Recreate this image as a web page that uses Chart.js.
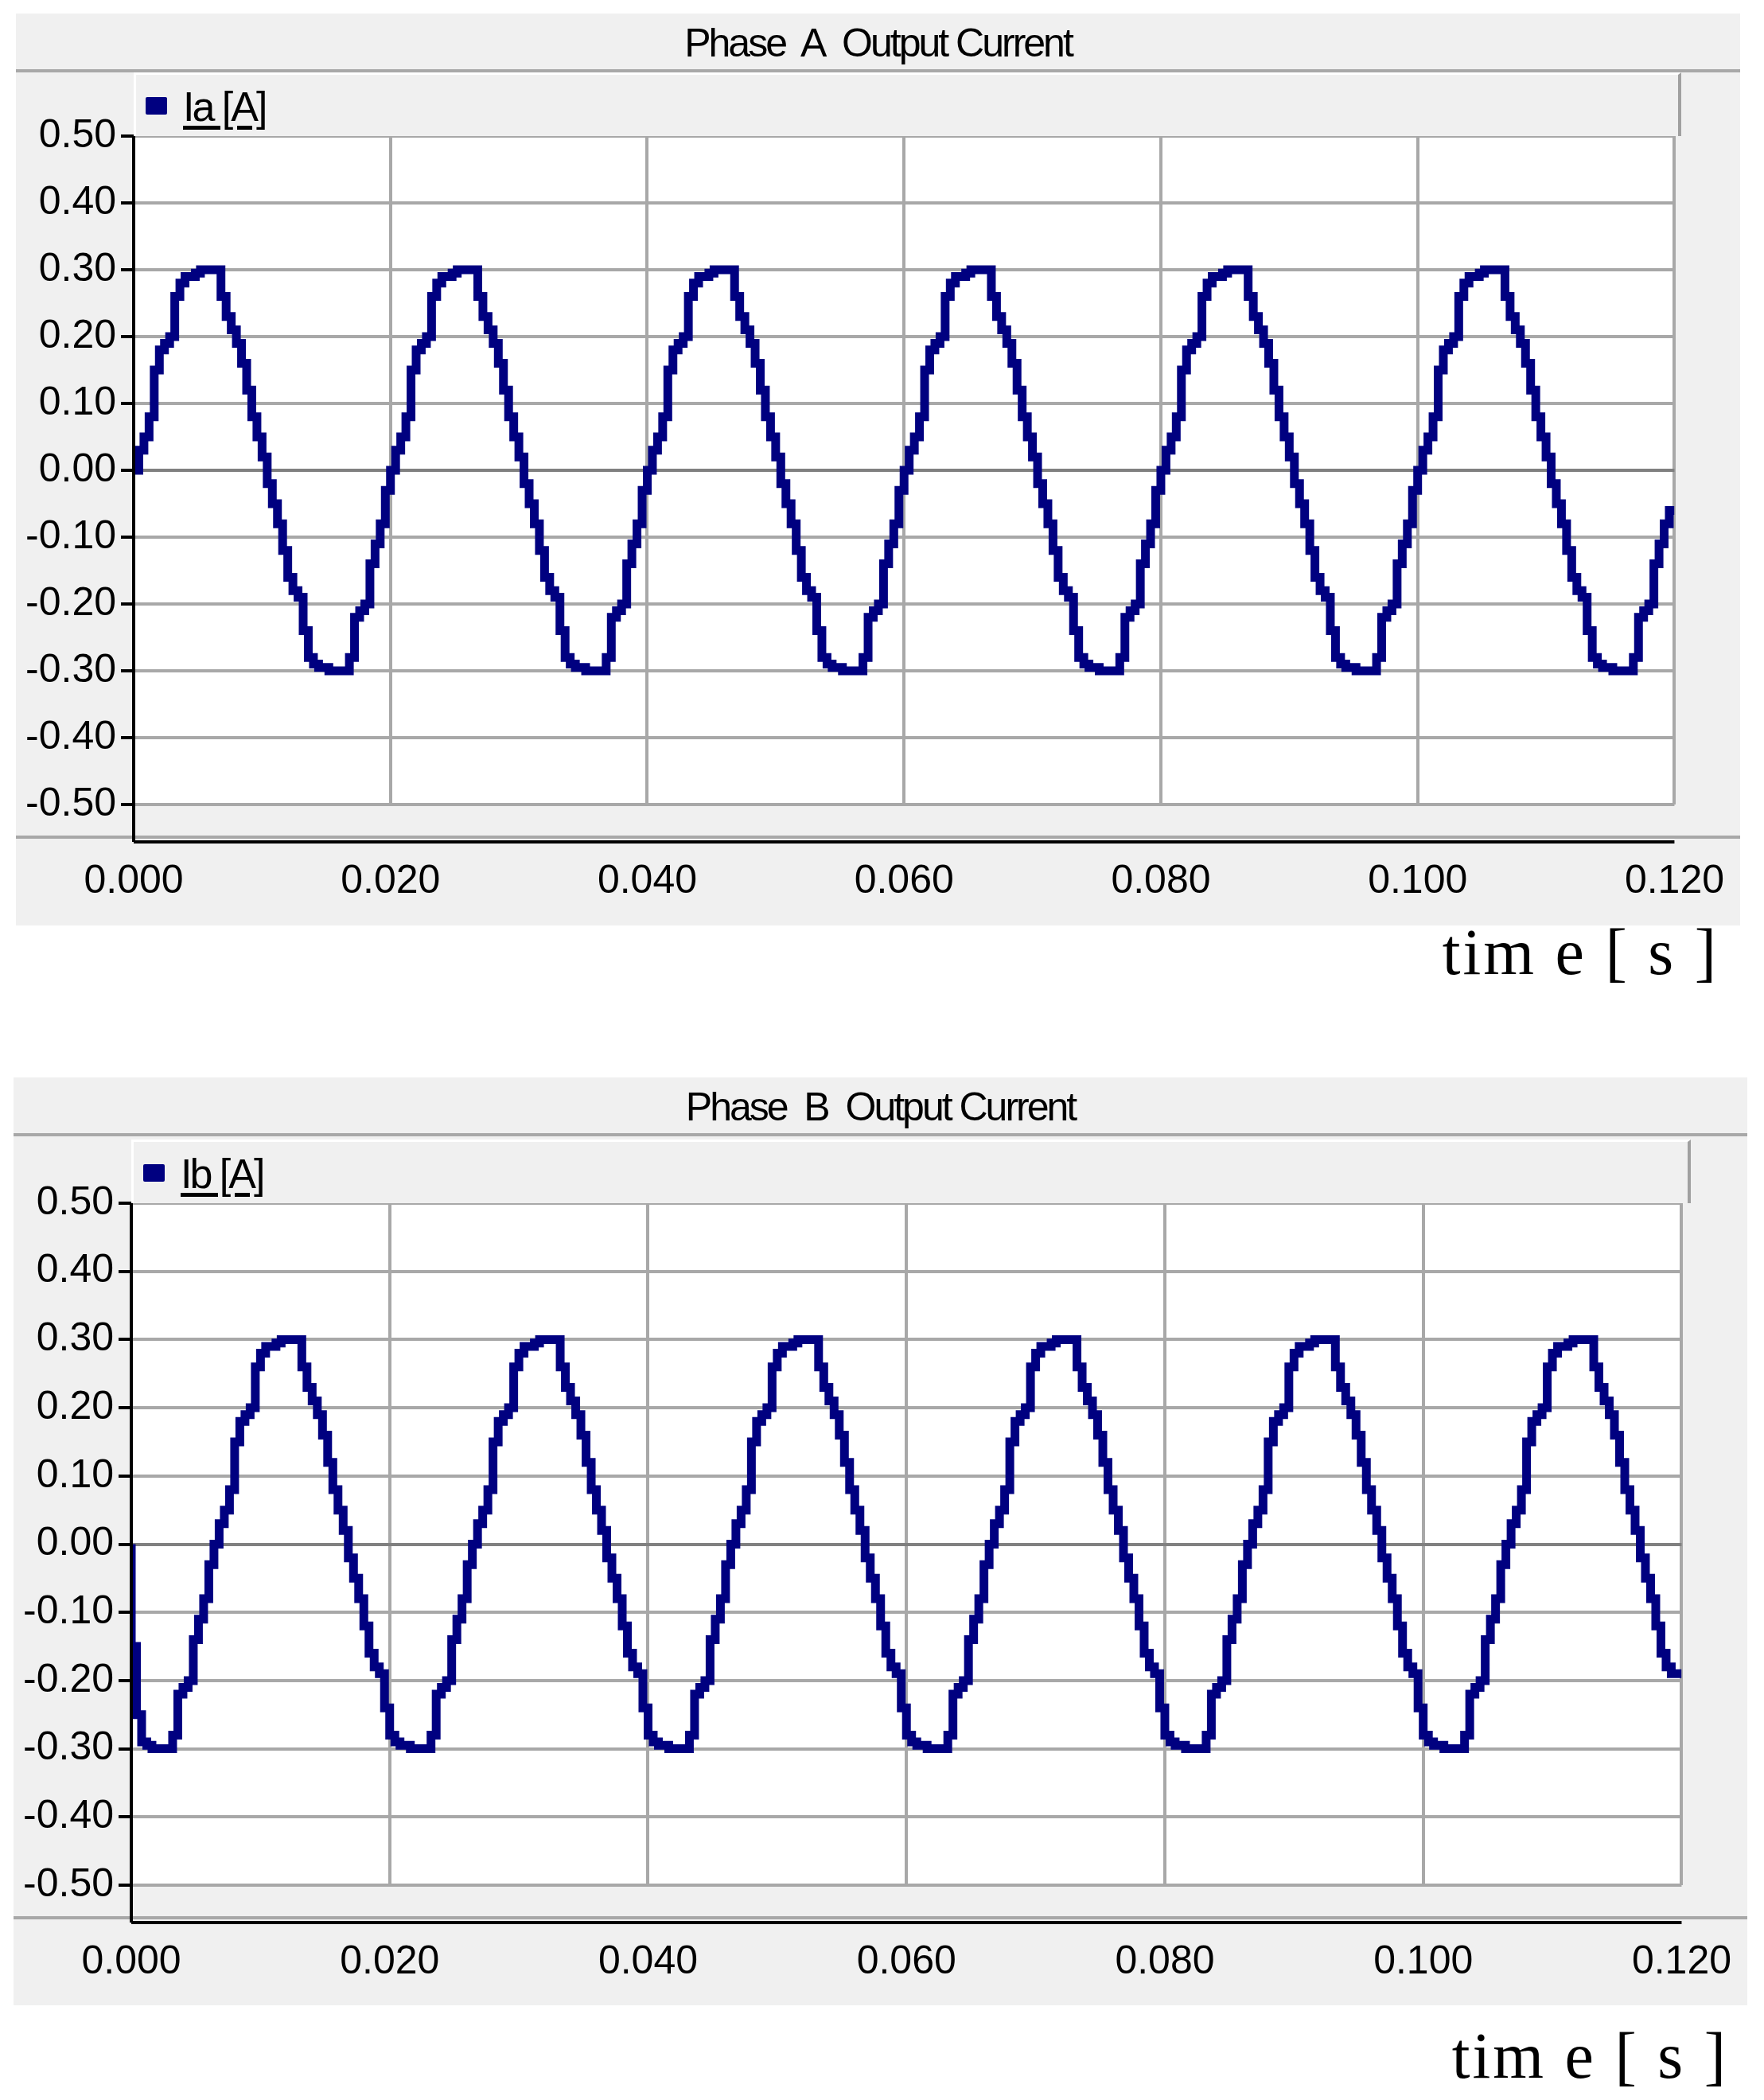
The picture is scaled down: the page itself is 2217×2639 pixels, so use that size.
<!DOCTYPE html>
<html><head><meta charset="utf-8">
<script src="https://cdn.jsdelivr.net/npm/chart.js@4"></script>
<style>
body{margin:0;width:2217px;height:2639px;background:#fff;position:relative;font-family:"Liberation Sans Narrow","Liberation Sans",Arial,sans-serif;}
.box{position:absolute;background:#f0f0f0;}
.title{position:absolute;left:0;right:0;top:0;height:70px;border-bottom:4px solid #a8a8a8;text-align:center;font-size:50px;line-height:74px;color:#000;letter-spacing:-3px}
.leg{position:absolute;height:80px;background:#f0f0f0;border-top:3px solid #fff;border-left:3px solid #fff;border-right:4px solid #a0a0a0;box-sizing:border-box;font-size:52px;line-height:80px;color:#000}
.leg span.sq{display:inline-block;width:27px;height:22px;background:#000080;margin:0 20px 0 12px;vertical-align:8px;border-radius:2px}
.leg span.t{text-decoration:underline;text-underline-offset:6px;letter-spacing:-3px}
canvas{position:absolute;left:0;top:0}
.time{position:absolute;font-family:"Liberation Serif","DejaVu Serif",serif;font-size:82px;letter-spacing:3px;color:#000;white-space:pre}
</style></head><body>
<div class="box" id="b1" style="left:20px;top:17px;width:2167px;height:1146px">
 <canvas id="c1"></canvas>
 <div class="title">Phase&nbsp; A&nbsp; Output Current</div>
 <div class="leg" style="left:148px;top:74px;width:1945px"><span class="sq"></span><span class="t">Ia [A]</span></div>
</div>
<div class="time" style="right:57px;top:1150px">tim e [ s ]</div>
<div class="box" id="b2" style="left:17px;top:1354px;width:2179px;height:1166px">
 <canvas id="c2"></canvas>
 <div class="title">Phase&nbsp; B&nbsp; Output Current</div>
 <div class="leg" style="left:148px;top:78px;width:1960px"><span class="sq"></span><span class="t">Ib [A]</span></div>
</div>
<div class="time" style="right:45px;top:2537px">tim e [ s ]</div>
<script>
const timeStep = 0.0004; // s per sample
const xTicks = [0,0.02,0.04,0.06,0.08,0.10,0.12];
const yTicks = [0.5,0.4,0.3,0.2,0.1,0,-0.1,-0.2,-0.3,-0.4,-0.5];
const iaValues = [
 0,0,0.03,0.05,0.08,0.15,0.18,0.19,0.20,0.26,0.28,0.29,0.29,0.295,0.3,0.3,0.3,0.3,0.26,0.23,0.21,0.19,0.16,0.12,0.08,0.05,0.02,-0.02,-0.05,-0.08,-0.12,-0.16,-0.18,-0.19,-0.24,-0.28,-0.29,-0.295,-0.295,-0.3,-0.3,-0.3,-0.3,-0.28,-0.22,-0.21,-0.2,-0.14,-0.11,-0.08,
 -0.03,0.0,0.03,0.05,0.08,0.15,0.18,0.19,0.20,0.26,0.28,0.29,0.29,0.295,0.3,0.3,0.3,0.3,0.26,0.23,0.21,0.19,0.16,0.12,0.08,0.05,0.02,-0.02,-0.05,-0.08,-0.12,-0.16,-0.18,-0.19,-0.24,-0.28,-0.29,-0.295,-0.295,-0.3,-0.3,-0.3,-0.3,-0.28,-0.22,-0.21,-0.2,-0.14,-0.11,-0.08,
 -0.03,0.0,0.03,0.05,0.08,0.15,0.18,0.19,0.20,0.26,0.28,0.29,0.29,0.295,0.3,0.3,0.3,0.3,0.26,0.23,0.21,0.19,0.16,0.12,0.08,0.05,0.02,-0.02,-0.05,-0.08,-0.12,-0.16,-0.18,-0.19,-0.24,-0.28,-0.29,-0.295,-0.295,-0.3,-0.3,-0.3,-0.3,-0.28,-0.22,-0.21,-0.2,-0.14,-0.11,-0.08,
 -0.03,0.0,0.03,0.05,0.08,0.15,0.18,0.19,0.20,0.26,0.28,0.29,0.29,0.295,0.3,0.3,0.3,0.3,0.26,0.23,0.21,0.19,0.16,0.12,0.08,0.05,0.02,-0.02,-0.05,-0.08,-0.12,-0.16,-0.18,-0.19,-0.24,-0.28,-0.29,-0.295,-0.295,-0.3,-0.3,-0.3,-0.3,-0.28,-0.22,-0.21,-0.2,-0.14,-0.11,-0.08,
 -0.03,0.0,0.03,0.05,0.08,0.15,0.18,0.19,0.20,0.26,0.28,0.29,0.29,0.295,0.3,0.3,0.3,0.3,0.26,0.23,0.21,0.19,0.16,0.12,0.08,0.05,0.02,-0.02,-0.05,-0.08,-0.12,-0.16,-0.18,-0.19,-0.24,-0.28,-0.29,-0.295,-0.295,-0.3,-0.3,-0.3,-0.3,-0.28,-0.22,-0.21,-0.2,-0.14,-0.11,-0.08,
 -0.03,0.0,0.03,0.05,0.08,0.15,0.18,0.19,0.20,0.26,0.28,0.29,0.29,0.295,0.3,0.3,0.3,0.3,0.26,0.23,0.21,0.19,0.16,0.12,0.08,0.05,0.02,-0.02,-0.05,-0.08,-0.12,-0.16,-0.18,-0.19,-0.24,-0.28,-0.29,-0.295,-0.295,-0.3,-0.3,-0.3,-0.3,-0.28,-0.22,-0.21,-0.2,-0.14,-0.11,-0.08,
 -0.06
];
const ibValues = [
 0,-0.15,-0.25,-0.29,-0.295,-0.3,-0.3,-0.3,-0.3,-0.28,-0.22,-0.21,-0.2,-0.14,-0.11,-0.08,
 -0.03,0.0,0.03,0.05,0.08,0.15,0.18,0.19,0.20,0.26,0.28,0.29,0.29,0.295,0.3,0.3,0.3,0.3,0.26,0.23,0.21,0.19,0.16,0.12,0.08,0.05,0.02,-0.02,-0.05,-0.08,-0.12,-0.16,-0.18,-0.19,-0.24,-0.28,-0.29,-0.295,-0.295,-0.3,-0.3,-0.3,-0.3,-0.28,-0.22,-0.21,-0.2,-0.14,-0.11,-0.08,
 -0.03,0.0,0.03,0.05,0.08,0.15,0.18,0.19,0.20,0.26,0.28,0.29,0.29,0.295,0.3,0.3,0.3,0.3,0.26,0.23,0.21,0.19,0.16,0.12,0.08,0.05,0.02,-0.02,-0.05,-0.08,-0.12,-0.16,-0.18,-0.19,-0.24,-0.28,-0.29,-0.295,-0.295,-0.3,-0.3,-0.3,-0.3,-0.28,-0.22,-0.21,-0.2,-0.14,-0.11,-0.08,
 -0.03,0.0,0.03,0.05,0.08,0.15,0.18,0.19,0.20,0.26,0.28,0.29,0.29,0.295,0.3,0.3,0.3,0.3,0.26,0.23,0.21,0.19,0.16,0.12,0.08,0.05,0.02,-0.02,-0.05,-0.08,-0.12,-0.16,-0.18,-0.19,-0.24,-0.28,-0.29,-0.295,-0.295,-0.3,-0.3,-0.3,-0.3,-0.28,-0.22,-0.21,-0.2,-0.14,-0.11,-0.08,
 -0.03,0.0,0.03,0.05,0.08,0.15,0.18,0.19,0.20,0.26,0.28,0.29,0.29,0.295,0.3,0.3,0.3,0.3,0.26,0.23,0.21,0.19,0.16,0.12,0.08,0.05,0.02,-0.02,-0.05,-0.08,-0.12,-0.16,-0.18,-0.19,-0.24,-0.28,-0.29,-0.295,-0.295,-0.3,-0.3,-0.3,-0.3,-0.28,-0.22,-0.21,-0.2,-0.14,-0.11,-0.08,
 -0.03,0.0,0.03,0.05,0.08,0.15,0.18,0.19,0.20,0.26,0.28,0.29,0.29,0.295,0.3,0.3,0.3,0.3,0.26,0.23,0.21,0.19,0.16,0.12,0.08,0.05,0.02,-0.02,-0.05,-0.08,-0.12,-0.16,-0.18,-0.19,-0.24,-0.28,-0.29,-0.295,-0.295,-0.3,-0.3,-0.3,-0.3,-0.28,-0.22,-0.21,-0.2,-0.14,-0.11,-0.08,
 -0.03,0.0,0.03,0.05,0.08,0.15,0.18,0.19,0.20,0.26,0.28,0.29,0.29,0.295,0.3,0.3,0.3,0.3,0.26,0.23,0.21,0.19,0.16,0.12,0.08,0.05,0.02,-0.02,-0.05,-0.08,-0.12,-0.16,-0.18,-0.19,
 -0.19
];
const FONT = '"Liberation Sans Narrow","Liberation Sans",Arial,sans-serif';
const AXGAP = 47;
const axisPlugin = {
  id:'axisPlugin',
  beforeDraw(chart){
    const a = chart.chartArea, ctx = chart.ctx;
    ctx.save();
    ctx.fillStyle = '#fff';
    ctx.fillRect(a.left, a.top, a.right - a.left, a.bottom - a.top);
    ctx.letterSpacing = '-3px';
    ctx.restore();
  },
  afterDraw(chart){
    const a = chart.chartArea, ctx = chart.ctx;
    ctx.save();
    ctx.strokeStyle = '#a8a8a8'; ctx.lineWidth = 4;
    ctx.beginPath(); ctx.moveTo(0, a.bottom+AXGAP-6); ctx.lineTo(chart.width, a.bottom+AXGAP-6); ctx.stroke();
    ctx.strokeStyle = '#000'; ctx.lineWidth = 4;
    ctx.beginPath(); ctx.moveTo(a.left, a.bottom+AXGAP); ctx.lineTo(a.right, a.bottom+AXGAP); ctx.stroke();
    ctx.beginPath(); ctx.moveTo(a.left, a.top); ctx.lineTo(a.left, a.bottom+AXGAP); ctx.stroke();
    ctx.restore();
  }
};
function makeChart(id, boxW, boxH, padTop, padRight, xAxisH, label, values){
  const cv = document.getElementById(id);
  cv.style.width = boxW+'px'; cv.style.height = boxH+'px';
  const pts = values.map((v,i)=>({x:i*timeStep, y:v}));
  return new Chart(cv, {
    type:'line',
    data:{datasets:[{label, data:pts, borderColor:'#000080', borderWidth:11, pointRadius:0, stepped:'after', fill:false, borderJoinStyle:'miter'}]},
    options:{
      responsive:false, animation:false, devicePixelRatio:1,
      layout:{padding:{top:padTop, right:padRight, left:0, bottom:0}},
      plugins:{legend:{display:false}, title:{display:false}, tooltip:{enabled:false}},
      scales:{
        x:{type:'linear', min:0, max:0.12,
           afterBuildTicks(s){ s.ticks = xTicks.map(v=>({value:v})); },
           afterFit(s){ s.height = xAxisH; },
           ticks:{callback:v=>v.toFixed(3), font:{family:FONT,size:50}, color:'#000', padding:20, maxRotation:0},
           grid:{color:'#a8a8a8', lineWidth:4, tickLength:AXGAP, tickColor:'rgba(0,0,0,0)'},
           border:{display:false}},
        y:{type:'linear', min:-0.5, max:0.5,
           afterBuildTicks(s){ s.ticks = yTicks.map(v=>({value:v})); },
           afterFit(s){ s.width = 148; },
           ticks:{callback:v=>v.toFixed(2), font:{family:FONT,size:50}, color:'#000', padding:6},
           grid:{color:ctx=>ctx.tick && ctx.tick.value===0 ? '#808080':'#a8a8a8', lineWidth:4, tickLength:16, tickColor:'#000'},
           border:{display:false}}
      }
    },
    plugins:[axisPlugin]
  });
}
makeChart('c1', 2167, 1146, 154, 74, 152, 'Ia [A]', iaValues);
makeChart('c2', 2179, 1166, 158, 71, 151, 'Ib [A]', ibValues);
</script>
</body></html>
